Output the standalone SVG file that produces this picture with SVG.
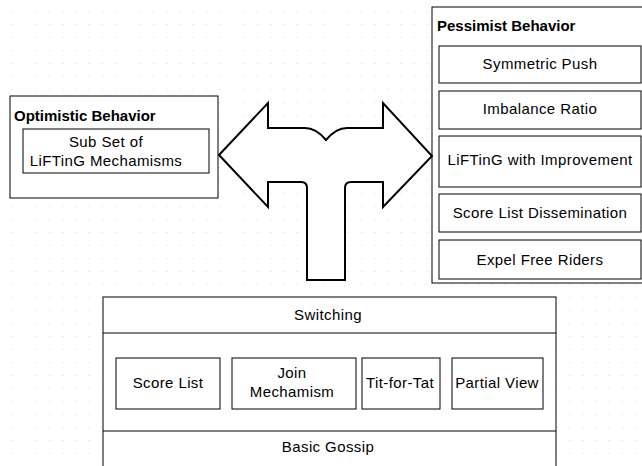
<svg xmlns="http://www.w3.org/2000/svg" width="642" height="466" viewBox="0 0 642 466">
<defs>
<pattern id="grid" x="0" y="0" width="13" height="13" patternUnits="userSpaceOnUse">
<rect x="10.5" y="11" width="1" height="1" fill="#d8d8d8"/>
</pattern>
</defs>
<style>
.box{fill:#fff;stroke:#000;stroke-width:1}
.t{font-family:"Liberation Sans",Arial,sans-serif;font-size:15px;letter-spacing:0.4px;fill:#000;text-anchor:middle}
.b{font-family:"Liberation Sans",Arial,sans-serif;font-size:15px;font-weight:bold;fill:#000}
</style>
<rect width="642" height="466" fill="#fff"/>
<rect width="642" height="466" fill="url(#grid)"/>

<g id="optimistic">
<rect class="box" x="10" y="96" width="208" height="102"/>
<text class="b" x="14" y="121">Optimistic Behavior</text>
<rect class="box" x="23" y="129" width="186" height="44"/>
<text class="t" x="106" y="147">Sub Set of</text>
<text class="t" x="106" y="166">LiFTinG Mechamisms</text>
</g>

<g id="pessimist">
<rect class="box" x="432" y="7" width="215" height="276"/>
<text class="b" x="437" y="31">Pessimist Behavior</text>
<g id="symmetric-push"><rect class="box" x="439" y="46" width="202" height="37"/><text class="t" x="540" y="69">Symmetric Push</text></g>
<g id="imbalance-ratio"><rect class="box" x="439" y="91" width="202" height="38"/><text class="t" x="540" y="114">Imbalance Ratio</text></g>
<g id="lifting-improvement"><rect class="box" x="439" y="136" width="202" height="51"/><text class="t" x="540" y="165">LiFTinG with Improvement</text></g>
<g id="score-list-dissemination"><rect class="box" x="439" y="194" width="202" height="38"/><text class="t" x="540" y="218">Score List Dissemination</text></g>
<g id="expel-free-riders"><rect class="box" x="439" y="240" width="202" height="39"/><text class="t" x="540" y="265">Expel Free Riders</text></g>
</g>

<g id="connectors">
<path d="M219,155 L268,103 L268,128 L305,128 Q316,128 326,140 Q336,128 347,128 L383,128 L383,103 L432,156 L383,207 L383,182 L351,182 Q345,182 345,188 L345,280 L307,280 L307,188 Q307,182 301,182 L268,182 L268,207 Z" fill="#fff" stroke="#000" stroke-width="2" stroke-linejoin="miter"/>
</g>

<g id="stack">
<rect class="box" x="103" y="297" width="453" height="180"/>
<line x1="103" y1="333" x2="556" y2="333" stroke="#000"/>
<line x1="103" y1="431" x2="556" y2="431" stroke="#000"/>
<text class="t" x="328" y="320">Switching</text>
<text class="t" x="328" y="452">Basic Gossip</text>
<g id="score-list"><rect class="box" x="116" y="358" width="104" height="51"/><text class="t" x="168" y="388">Score List</text></g>
<g id="join"><rect class="box" x="232" y="358" width="124" height="51"/><text class="t" x="292" y="378">Join</text><text class="t" x="292" y="397">Mechamism</text></g>
<g id="tit-for-tat"><rect class="box" x="362" y="358" width="78" height="51"/><text class="t" x="400" y="388">Tit-for-Tat</text></g>
<g id="partial-view"><rect class="box" x="452" y="358" width="91" height="51"/><text class="t" x="497" y="388">Partial View</text></g>
</g>
</svg>
